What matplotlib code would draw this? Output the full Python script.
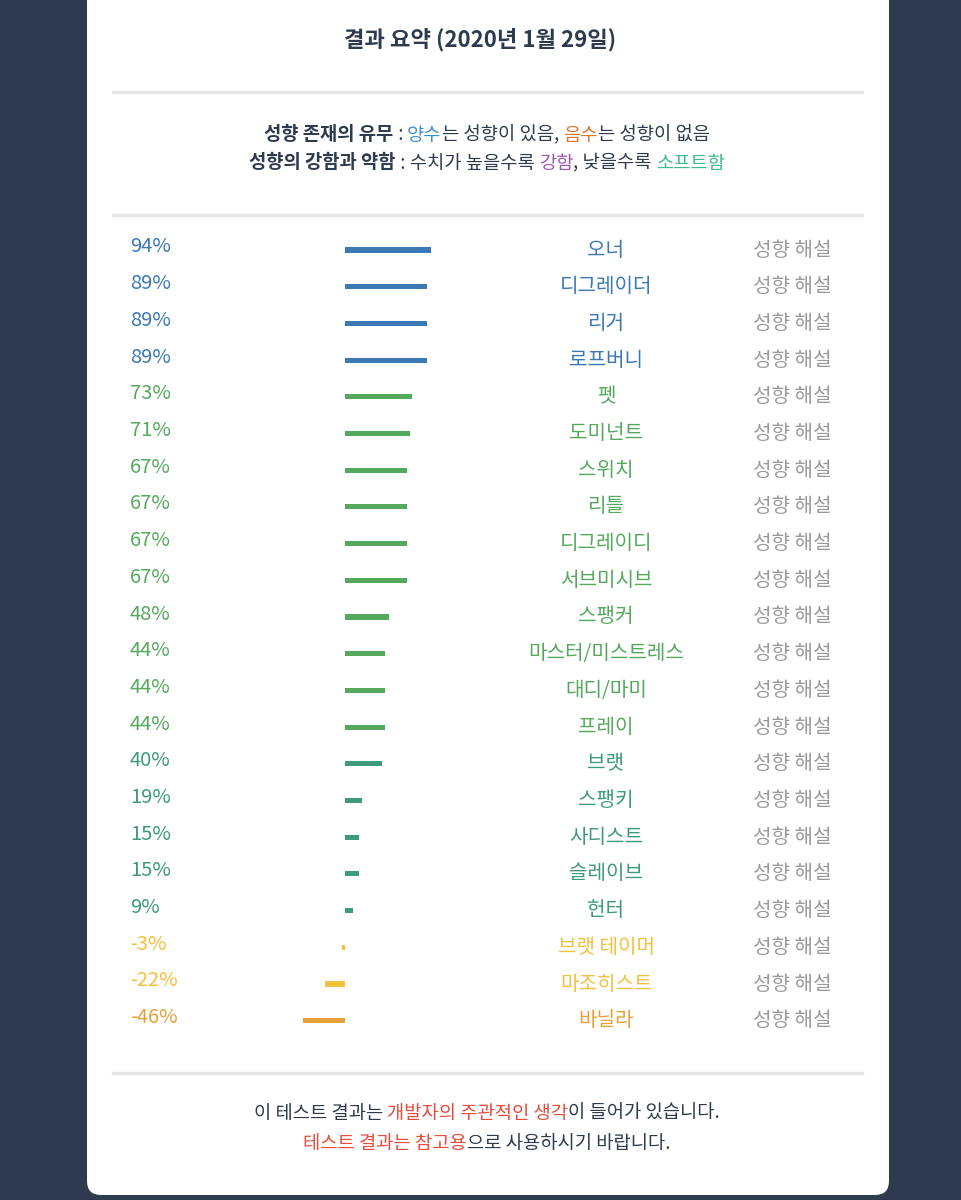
import matplotlib
matplotlib.use('Agg')
import matplotlib.pyplot as plt
from matplotlib.patches import FancyBboxPatch

plt.rcParams['font.family'] = ['Noto Sans CJK KR', 'DejaVu Sans']

# 데이터
names = ['오너', '디그레이더', '리거', '로프버니', '펫', '도미넌트', '스위치', '리틀',
         '디그레이디', '서브미시브', '스팽커', '마스터/미스트레스', '대디/마미', '프레이',
         '브랫', '스팽키', '사디스트', '슬레이브', '헌터', '브랫 테이머', '마조히스트', '바닐라']
values = [94, 89, 89, 89, 73, 71, 67, 67, 67, 67, 48, 44, 44, 44, 40, 19, 15, 15, 9, -3, -22, -46]
groups = ['b'] * 4 + ['g'] * 10 + ['t'] * 5 + ['y'] * 2 + ['o']
palette = {'b': '#3b79b4', 'g': '#55a95f', 't': '#3d9a7c', 'y': '#f3c13e', 'o': '#e8a038'}

W, H = 961, 1200
fig = plt.figure(figsize=(W / 100, H / 100), dpi=100)
fig.patch.set_facecolor('#2e3b4e')

ax = fig.add_axes([0, 0, 1, 1])
ax.set_xlim(0, W)
ax.set_ylim(H, 0)
ax.axis('off')

card = FancyBboxPatch((87, -30), 802, 1225, boxstyle='round,pad=0,rounding_size=14',
                      fc='white', ec='none')
ax.add_patch(card)

DARK = '#2e3b4e'
ax.text(480, 40, '결과 요약 (2020년 1월 29일)', ha='center', va='center',
        fontsize=16, fontweight='bold', color=DARK)
for y in (92, 215, 1073):
    ax.plot([113, 862], [y, y], color='#e6e6e6', lw=2.5)

fig.canvas.draw()
renderer = fig.canvas.get_renderer()


def rich_line(y, parts, size):
    # 여러 색 조각을 한 줄 가운데 정렬
    objs = []
    for s, c, w in parts:
        objs.append(ax.text(0, y, s, color=c, fontsize=size, fontweight=w,
                            ha='left', va='center'))
    widths = []
    inv = ax.transData.inverted()
    for t in objs:
        bb = t.get_window_extent(renderer)
        x0 = inv.transform((bb.x0, bb.y0))[0]
        x1 = inv.transform((bb.x1, bb.y0))[0]
        widths.append(x1 - x0)
    x = 487 - sum(widths) / 2
    for t, w in zip(objs, widths):
        t.set_x(x)
        x += w


rich_line(135, [('성향 존재의 유무', DARK, 'bold'), (' : ', DARK, 'normal'),
                ('양수', '#3a8fd6', 'normal'), ('는 성향이 있음, ', DARK, 'normal'),
                ('음수', '#e0752c', 'normal'), ('는 성향이 없음', DARK, 'normal')], 13.5)
rich_line(163, [('성향의 강함과 약함', DARK, 'bold'), (' : 수치가 높을수록 ', DARK, 'normal'),
                ('강함', '#9b59b6', 'normal'), (', 낮을수록 ', DARK, 'normal'),
                ('소프트함', '#3dbb8a', 'normal')], 13.5)
rich_line(1113, [('이 테스트 결과는 ', DARK, 'normal'), ('개발자의 주관적인 생각', '#e74c3c', 'normal'),
                 ('이 들어가 있습니다.', DARK, 'normal')], 13.5)
rich_line(1143, [('테스트 결과는 참고용', '#e74c3c', 'normal'),
                 ('으로 사용하시기 바랍니다.', DARK, 'normal')], 13.5)

# 막대 영역: 0% -> x=345px, 0.92px/%
y0, dy = 250, 36.7
n = len(values)
px = 0.92
left_px, right_px = 250, 480
top_px, bot_px = y0 - dy / 2, y0 + dy * (n - 0.5)
bax = fig.add_axes([left_px / W, 1 - bot_px / H, (right_px - left_px) / W, (bot_px - top_px) / H])
bax.set_xlim((left_px - 345) / px, (right_px - 345) / px)
bax.set_ylim(n - 0.5, -0.5)
bax.axis('off')
cols = [palette[g] for g in groups]
bax.barh(range(n), values, height=0.14, color=cols)

for i, (nm, v, c) in enumerate(zip(names, values, cols)):
    y = y0 + dy * i
    ax.text(130, y - 3, f'{v}%', color=c, fontsize=14.5, ha='left', va='center')
    ax.text(606, y, nm, color=c, fontsize=14.5, ha='center', va='center')
    ax.text(792, y, '성향 해설', color='#999999', fontsize=14.5, ha='center', va='center')

fig.savefig('out.png', dpi=100, facecolor=fig.get_facecolor())
